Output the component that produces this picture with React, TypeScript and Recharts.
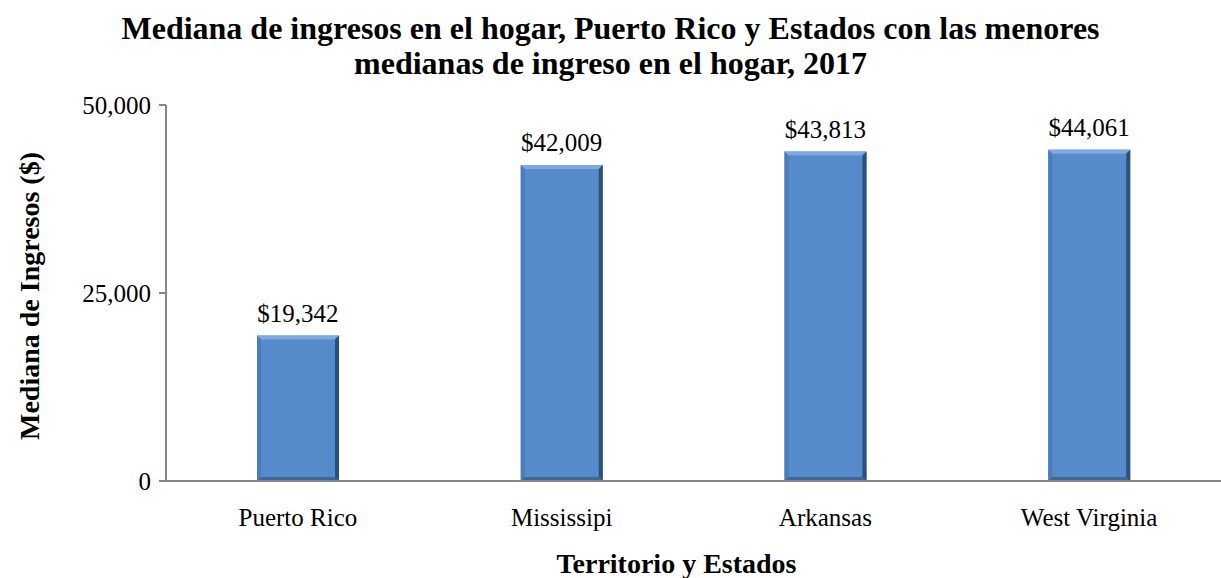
import { useEffect } from 'react';
import { BarChart, Bar, XAxis, YAxis, LabelList } from 'recharts';

const lugares = ['Puerto Rico', 'Mississipi', 'Arkansas', 'West Virginia'];
const ingresos = [19342, 42009, 43813, 44061];
const yTicks = [0, 25000, 50000];

const data = lugares.map((name, i) => ({ name, value: ingresos[i] }));

const serif = '"Liberation Serif", "Times New Roman", serif';

const fmt = (v: number) => v.toLocaleString('en-US');

// bar with a little bevel like the Excel original
const BevelBar = (props: any) => {
  const { x, y, width, height } = props;
  if (!height || height <= 0) return null;
  const b = 4;
  return (
    <g>
      <rect x={x} y={y} width={width} height={height} fill="#558ACB" />
      <polygon points={`${x},${y} ${x + width},${y} ${x + width - b},${y + b} ${x + b},${y + b}`} fill="#7DA9DE" />
      <polygon points={`${x + width},${y} ${x + width},${y + height} ${x + width - b},${y + height - b} ${x + width - b},${y + b}`} fill="#2C4F7C" />
      <polygon points={`${x},${y + height} ${x + width},${y + height} ${x + width - b},${y + height - b} ${x + b},${y + height - b}`} fill="#3E6698" />
      <polygon points={`${x},${y} ${x + b},${y + b} ${x + b},${y + height - b} ${x},${y + height}`} fill="#4D7DB8" />
    </g>
  );
};

export default function App() {
  useEffect(() => {
    document.body.style.margin = '0';
  }, []);

  return (
    <div style={{ position: 'relative', width: 1221, height: 578, fontFamily: serif, background: '#fff' }}>
      <div
        style={{
          position: 'absolute',
          top: 11,
          left: 0,
          width: 1221,
          textAlign: 'center',
          fontWeight: 'bold',
          fontSize: 32,
          lineHeight: '35px',
          color: '#000',
        }}
      >
        Mediana de ingresos en el hogar, Puerto Rico y Estados con las menores
        <br />
        medianas de ingreso en el hogar, 2017
      </div>
      <div
        style={{
          position: 'absolute',
          left: 30,
          top: 296,
          transform: 'translate(-50%, -50%) rotate(-90deg)',
          fontWeight: 'bold',
          fontSize: 28,
          lineHeight: '28px',
          whiteSpace: 'nowrap',
        }}
      >
        Mediana de Ingresos ($)
      </div>
      <div
        style={{
          position: 'absolute',
          top: 550,
          left: 166,
          width: 1021,
          textAlign: 'center',
          fontWeight: 'bold',
          fontSize: 28,
          lineHeight: '28px',
        }}
      >
        Territorio y Estados
      </div>
      <div style={{ position: 'absolute', top: 0, left: 0 }}>
        <BarChart
          width={1221}
          height={578}
          data={data}
          margin={{ top: 105, right: 0, left: 0, bottom: 37 }}
          barCategoryGap="34.5%"
        >
          <XAxis
            dataKey="name"
            height={60}
            axisLine={{ stroke: '#868686', strokeWidth: 2 }}
            tickLine={false}
            tick={{ fill: '#000', fontSize: 25, fontFamily: serif }}
            dy={19}
            interval={0}
          />
          <YAxis
            width={166}
            domain={[0, 50000]}
            ticks={yTicks}
            tickFormatter={fmt}
            axisLine={{ stroke: '#868686', strokeWidth: 2 }}
            tickLine={{ stroke: '#868686', strokeWidth: 2 }}
            tickSize={7}
            tick={{ fill: '#000', fontSize: 25, fontFamily: serif }}
            dx={-6}
          />
          <Bar dataKey="value" shape={<BevelBar />} isAnimationActive={false}>
            <LabelList
              dataKey="value"
              position="top"
              offset={14}
              formatter={(v: any) => '$' + fmt(Number(v))}
              style={{ fill: '#000', fontSize: 25, fontFamily: serif }}
            />
          </Bar>
        </BarChart>
      </div>
    </div>
  );
}
